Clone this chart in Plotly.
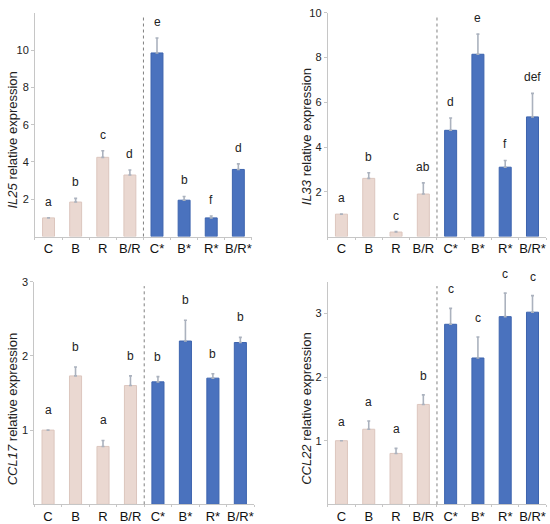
import plotly.graph_objects as go
from plotly.subplots import make_subplots

groups = ['C', 'B', 'R', 'B/R', 'C*', 'B*', 'R*', 'B/R*']

il25 = [1.0, 1.85, 4.25, 3.3, 9.85, 1.95, 1.0, 3.6]
il25_err = [0, 0.2, 0.35, 0.27, 0.8, 0.2, 0.1, 0.3]
il25_lett = ['a', 'b', 'c', 'd', 'e', 'b', 'f', 'd']

il33 = [1.0, 2.6, 0.2, 1.9, 4.75, 8.15, 3.1, 5.35]
il33_err = [0, 0.25, 0.02, 0.5, 0.55, 0.9, 0.3, 1.05]
il33_lett = ['a', 'b', 'c', 'ab', 'd', 'e', 'f', 'def']

ccl17 = [1.0, 1.73, 0.78, 1.6, 1.65, 2.2, 1.7, 2.18]
ccl17_err = [0, 0.12, 0.08, 0.13, 0.07, 0.28, 0.06, 0.07]
ccl17_lett = ['a', 'b', 'a', 'b', 'b', 'b', 'b', 'b']

ccl22 = [1.0, 1.18, 0.8, 1.57, 2.83, 2.3, 2.95, 3.02]
ccl22_err = [0, 0.13, 0.08, 0.15, 0.25, 0.33, 0.37, 0.26]
ccl22_lett = ['a', 'a', 'a', 'b', 'c', 'c', 'c', 'c']

pink, blue = '#EAD8D1', '#4A72BE'
fill = [pink] * 4 + [blue] * 4
edge = ['#DCC6BE'] * 4 + ['#3D64AE'] * 4
font = 'Liberation Sans, Arial, sans-serif'

panels = [
    (il25, il25_err, il25_lett, 'IL25', [0, 12], [2, 4, 6, 8, 10], 7),
    (il33, il33_err, il33_lett, 'IL33', [0, 10], [2, 4, 6, 8, 10], 7),
    (ccl17, ccl17_err, ccl17_lett, 'CCL17', [0, 3], [1, 2, 3], 11),
    (ccl22, ccl22_err, ccl22_lett, 'CCL22', [0, 3.5], [1, 2, 3], 10),
]
# centre of the rotated y titles (paper coords)
title_pos = [(0.022, 0.7385), (0.5576, 0.746), (0.022, 0.2156), (0.5576, 0.2156)]

fig = make_subplots(rows=2, cols=2)

for i, (vals, err, lett, gene, yr, tv, shift) in enumerate(panels):
    r, c = i // 2 + 1, i % 2 + 1
    fig.add_trace(go.Bar(
        x=groups, y=vals, width=0.44,
        marker=dict(color=fill, line=dict(color=edge, width=1)),
        error_y=dict(type='data', symmetric=False, array=err, arrayminus=[0] * 8,
                     color='#ABB2BE', thickness=1.6, width=1.5),
        showlegend=False), row=r, col=c)
    for g, v, e, t in zip(groups, vals, err, lett):
        fig.add_annotation(x=g, y=v + e, text=t, showarrow=False, yanchor='bottom',
                           yshift=shift, font=dict(size=12, color='#222'), row=r, col=c)
    n = '' if i == 0 else str(i + 1)
    fig.add_shape(type='line', x0=3.5, x1=3.5, y0=0, y1=0.98, xref='x' + n,
                  yref='y' + n + ' domain', line=dict(color='#808080', width=1, dash='dot'))
    fig.add_annotation(x=title_pos[i][0], y=title_pos[i][1], xref='paper', yref='paper',
                       xanchor='center', yanchor='middle',
                       text='<i>' + gene + '</i> relative expression', textangle=-90,
                       showarrow=False, font=dict(size=13, color='#222'))
    fig.update_yaxes(range=yr, tickvals=tv, showline=True, linecolor='#C6C6C6', linewidth=1,
                     ticks='outside', ticklen=3, tickcolor='#C6C6C6', showgrid=False, zeroline=False,
                     tickfont=dict(size=11, color='#222'), row=r, col=c)
    fig.update_xaxes(range=[-0.5, 7.5], showline=True, linecolor='#C6C6C6', linewidth=1,
                     ticks='outside', ticklen=2, tickcolor='#C6C6C6', tickson='boundaries',
                     tickangle=0, showgrid=False, tickfont=dict(size=13, color='#111'), row=r, col=c)

fig.update_layout(
    width=550, height=524, margin=dict(l=0, r=0, t=0, b=0),
    plot_bgcolor='white', paper_bgcolor='white', font=dict(family=font),
    xaxis=dict(domain=[0.0636, 0.458]), xaxis2=dict(domain=[0.596, 0.993]),
    xaxis3=dict(domain=[0.0624, 0.462]), xaxis4=dict(domain=[0.596, 0.993]),
    yaxis=dict(domain=[0.5515, 0.9866]), yaxis2=dict(domain=[0.5515, 0.9866]),
    yaxis3=dict(domain=[0.0305, 0.4637]), yaxis4=dict(domain=[0.0305, 0.4637]),
)

# page body has an 8px default margin, drop it so the figure sits at 0,0
fig.write_html('out.html', config={'displayModeBar': False},
               post_script="document.body.style.margin='0';")
